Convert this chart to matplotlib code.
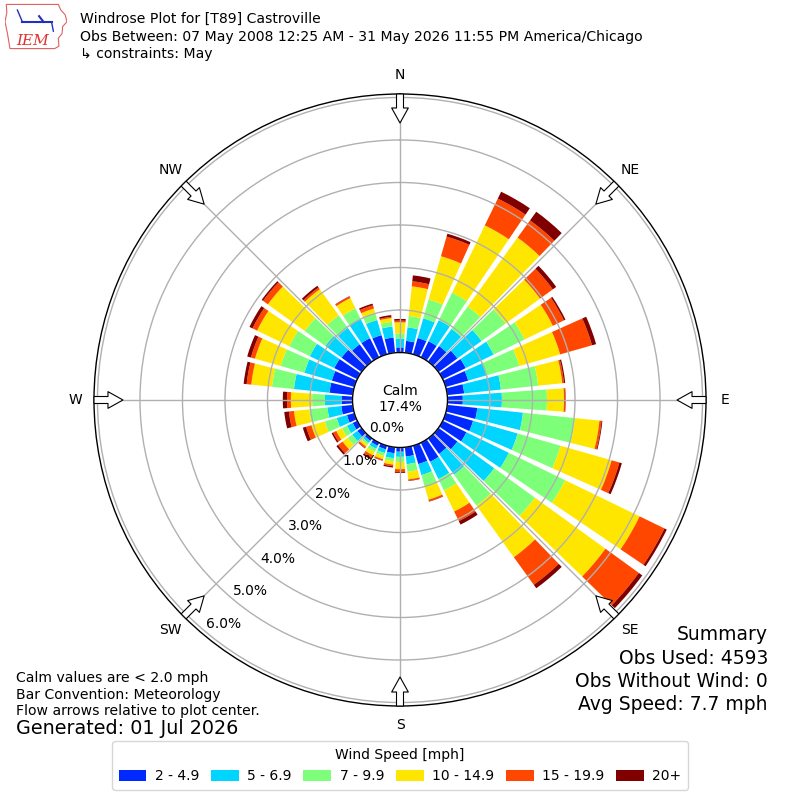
import numpy as np
import matplotlib
matplotlib.use("Agg")
import matplotlib.pyplot as plt
from matplotlib.patches import Patch, Polygon
import matplotlib.transforms as mtransforms

# ---------------- data ----------------
directions = list(range(0, 360, 10))
speed_labels = ["2 - 4.9", "5 - 6.9", "7 - 9.9", "10 - 14.9", "15 - 19.9", "20+"]

# frequency (%) of each speed bin per direction (0, 10, ..., 350 deg)
freq_2_5 = [0.12, 0.28, 0.40, 0.42, 0.45, 0.55, 0.60, 0.55, 0.40, 0.36, 0.71, 0.67,
            0.62, 0.55, 0.45, 0.50, 0.45, 0.22, 0.10, 0.14, 0.09, 0.08, 0.07, 0.12,
            0.12, 0.18, 0.27, 0.25, 0.55, 0.55, 0.60, 0.58, 0.50, 0.50, 0.47, 0.36]
freq_5_7 = [0.21, 0.32, 0.48, 0.55, 0.50, 0.70, 0.73, 0.45, 0.87, 0.92, 1.08, 1.09,
            1.11, 1.07, 0.60, 0.45, 0.27, 0.18, 0.12, 0.12, 0.09, 0.08, 0.06, 0.15,
            0.15, 0.25, 0.33, 0.40, 0.84, 0.67, 0.64, 0.47, 0.48, 0.50, 0.37, 0.26]
freq_7_10 = [0.12, 0.27, 0.46, 0.72, 0.65, 0.70, 0.81, 0.80, 0.88, 1.06, 1.23, 1.05,
             1.47, 1.18, 0.90, 0.30, 0.28, 0.18, 0.12, 0.07, 0.07, 0.08, 0.05, 0.13,
             0.13, 0.29, 0.43, 0.30, 0.52, 0.58, 0.54, 0.60, 0.36, 0.28, 0.17, 0.11]
freq_10_15 = [0.26, 0.70, 1.06, 1.76, 2.00, 1.00, 0.74, 1.00, 0.57, 0.40, 0.58, 1.25,
              1.95, 2.05, 1.50, 0.55, 0.32, 0.18, 0.17, 0.08, 0.08, 0.09, 0.06, 0.15,
              0.15, 0.33, 0.36, 0.50, 0.49, 0.63, 0.84, 1.07, 0.76, 0.27, 0.11, 0.09]
freq_15_20 = [0.04, 0.12, 0.48, 0.70, 0.50, 0.37, 0.29, 0.78, 0.04, 0.03, 0.05, 0.19,
              0.65, 0.97, 0.80, 0.25, 0.04, 0.03, 0.07, 0.04, 0.03, 0.07, 0.04, 0.13,
              0.08, 0.13, 0.12, 0.09, 0.11, 0.10, 0.12, 0.14, 0.05, 0.04, 0.08, 0.03]
freq_20p = [0.04, 0.14, 0.07, 0.18, 0.25, 0.10, 0.04, 0.10, 0.03, 0.01, 0.02, 0.06,
            0.06, 0.10, 0.10, 0.09, 0.01, 0.01, 0.02, 0.03, 0.01, 0.04, 0.01, 0.05,
            0.04, 0.08, 0.11, 0.10, 0.07, 0.09, 0.08, 0.04, 0.05, 0.01, 0.04, 0.04]
series = [freq_2_5, freq_5_7, freq_7_10, freq_10_15, freq_15_20, freq_20p]

calm_pct = 17.4
ring_ticks = [0, 1, 2, 3, 4, 5, 6]
compass_labels = ["N", "NE", "E", "SE", "S", "SW", "W", "NW"]
compass_angles = list(range(0, 360, 45))

title_lines = ["Windrose Plot for [T89] Castroville",
               "Obs Between: 07 May 2008 12:25 AM - 31 May 2026 11:55 PM America/Chicago",
               "\u21b3 constraints: May"]
summary_lines = ["Summary", "Obs Used: 4593", "Obs Without Wind: 0", "Avg Speed: 7.7 mph"]
notes_lines = ["Calm values are < 2.0 mph", "Bar Convention: Meteorology",
               "Flow arrows relative to plot center."]
generated = "Generated: 01 Jul 2026"

# ---------------- figure ----------------
fig = plt.figure(figsize=(8, 8), dpi=100)
ax = fig.add_axes([0.1175, 0.1175, 0.765, 0.765], projection="polar")
ax.set_theta_zero_location("N")
ax.set_theta_direction(-1)

colors = plt.get_cmap("jet")(np.linspace(0, 1, 7)[1:])
theta = np.deg2rad(directions)
width = np.deg2rad(8.2)
bottom = np.zeros(len(directions))
for vals, col in zip(series, colors):
    vals = np.asarray(vals)
    ax.bar(theta, vals, width=width, bottom=bottom, color=col, edgecolor="none",
           align="center", zorder=1)
    bottom = bottom + vals

rmax = 6.082
ax.set_ylim(0, rmax)
ax.set_rorigin(-1.1176)
ax.set_yticks(ring_ticks)
ax.set_yticklabels([])
ax.set_xticks(np.deg2rad(compass_angles))
ax.set_xticklabels([])
ax.grid(True, color="#b0b0b0", linewidth=1.0)
for name, sp in ax.spines.items():
    sp.set_color("black")
    sp.set_linewidth(1.0)

# ring labels
off = mtransforms.offset_copy(ax.transData, fig=fig, x=0, y=8, units="dots")
for t in ring_ticks:
    ax.text(np.deg2rad(220), t, f"{t:.1f}%", ha="left", va="center",
            fontsize=10, transform=off, zorder=5)

# compass labels
for lab, ang in zip(compass_labels, compass_angles):
    a = np.deg2rad(ang)
    ax.text(0.5 + 0.531 * np.sin(a), 0.5 + 0.531 * np.cos(a), lab,
            transform=ax.transAxes, ha="center", va="center", fontsize=10)

# flow arrows
for ang in compass_angles:
    a = np.deg2rad(ang)
    ax.annotate("", xy=(a, 5.40), xytext=(a, rmax), xycoords="data",
                arrowprops=dict(arrowstyle="simple,head_length=0.9,head_width=1.0,tail_width=0.42",
                                fc="white", ec="black", lw=0.8, mutation_scale=12,
                                shrinkA=0, shrinkB=0), annotation_clip=False, zorder=6)

# calm text
ax.text(0.5, 0.502, f"Calm\n{calm_pct:.1f}%", transform=ax.transAxes, ha="center",
        va="center", fontsize=10, multialignment="center", zorder=6)

# texts
fig.text(0.1, 1 - 12 / 800, "\n".join(title_lines), ha="left", va="top", fontsize=10.1,
         linespacing=1.33)
fig.text(0.96, 1 - 625 / 800, "\n".join(summary_lines), ha="right", va="top",
         fontsize=13.5, linespacing=1.3)
fig.text(0.02, 1 - 671 / 800, "\n".join(notes_lines), ha="left", va="top", fontsize=10.1,
         linespacing=1.24)
fig.text(0.02, 1 - 729 / 800, generated, ha="left", va="center", fontsize=13.8)

# legend
handles = [Patch(facecolor=c, edgecolor="none") for c in colors]
leg = fig.legend(handles, speed_labels, title="Wind Speed [mph]", ncol=6,
                 loc="lower center", bbox_to_anchor=(0.5, 0.0035), fontsize=10,
                 title_fontsize=10, frameon=True, handlelength=2.0, handleheight=0.8,
                 handletextpad=0.6, columnspacing=0.85, borderpad=0.5)
leg.get_frame().set_edgecolor("#cccccc")

# logo (approximation)
lax = fig.add_axes([5 / 800, 1 - 50 / 800, 62 / 800, 47 / 800])
lax.set_xlim(0, 1)
lax.set_ylim(0, 1)
lax.axis("off")
outline = Polygon([(0.02, 0.97), (0.86, 0.97), (0.9, 0.85), (0.97, 0.75), (1.0, 0.6),
                   (0.93, 0.5), (0.92, 0.35), (0.86, 0.25), (0.87, 0.08), (0.8, 0.03),
                   (0.08, 0.03), (0.04, 0.35), (0.0, 0.6), (0.03, 0.8)],
                  closed=True, fill=False, edgecolor="#e06060", lw=0.8)
lax.add_patch(outline)
lax.plot([0.28, 0.75], [0.6, 0.6], color="#2030c0", lw=1.5)
lax.plot([0.28, 0.2], [0.6, 0.85], color="#2030c0", lw=1.0)
lax.plot([0.62, 0.55], [0.6, 0.72], color="#2030c0", lw=1.5)
lax.plot([0.75, 0.78], [0.6, 0.4], color="#2030c0", lw=1.0)
lax.text(0.45, 0.2, "IEM", color="#e03030", fontsize=11, fontstyle="italic",
         family="DejaVu Serif", ha="center", va="center")

fig.savefig("out.png", dpi=100)
